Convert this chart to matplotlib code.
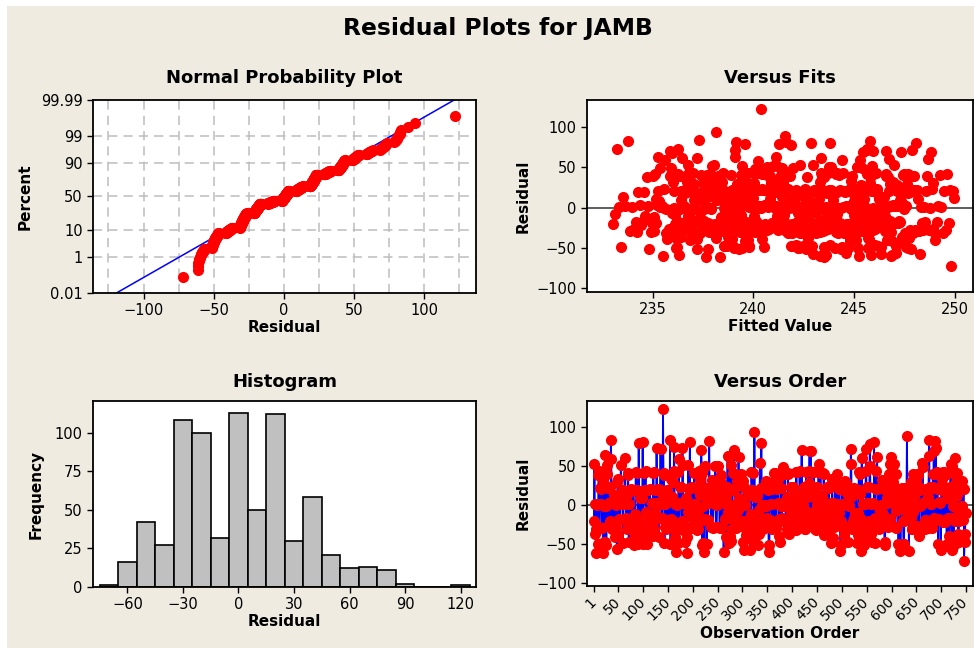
import numpy as np
import matplotlib.pyplot as plt
from matplotlib.patches import Rectangle
from statistics import NormalDist

# residual histogram (bin width 10, centred on the values)
hist_centers = np.arange(-70, 130, 10)
hist_counts = [1, 16, 42, 27, 108, 100, 32, 113, 50, 112, 30, 58, 21, 12, 13, 11, 2, 0, 0, 1]

# how many fitted values fall in each unit interval [start, start + 1)
fit_starts = np.arange(233, 250)
fit_counts = [10, 15, 30, 45, 52, 55, 58, 60, 60, 60, 58, 58, 56, 50, 45, 23, 14]

# the two isolated points visible in every panel
outlier_order = [140, 746]
outlier_fit = [240.4, 249.8]
outlier_resid = [122.0, -72.0]

obs_ticks = [1] + list(range(50, 751, 50))

BG = '#efebe1'
RED = '#ff0000'
plt.rcParams['font.family'] = 'DejaVu Sans'
plt.rcParams['font.size'] = 10


def spread(centers, counts, half):
    vals = []
    for c, k in zip(centers, counts):
        if k == 1:
            vals.append(float(c))
        elif k > 1:
            vals += list(np.linspace(c - half, c + half, k))
    return np.sort(np.array(vals))


resid_sorted = spread(hist_centers + 1.0, hist_counts, 2.5)
resid_sorted[-1] = outlier_resid[0]
resid_sorted[0] = outlier_resid[1]
fit_sorted = spread(fit_starts + 0.5, fit_counts, 0.48)
n = len(resid_sorted)

# scatter the observations over order / fitted value (quadratic Weyl sequences)
k = np.arange(n, dtype=float)
r_rank = np.argsort(np.argsort((k * k * 0.6180339887 + k * 0.31) % 1.0))
f_rank = np.argsort(np.argsort((k * k * 0.4142135624 + k * 0.77) % 1.0))


def pin(obs, rrank, fval):
    j = np.where(r_rank == rrank)[0][0]
    r_rank[j], r_rank[obs] = r_rank[obs], r_rank[j]
    target = np.argmin(np.abs(fit_sorted - fval))
    j = np.where(f_rank == target)[0][0]
    f_rank[j], f_rank[obs] = f_rank[obs], f_rank[j]


pin(outlier_order[0] - 1, n - 1, outlier_fit[0])
pin(outlier_order[1] - 1, 0, outlier_fit[1])

resid = resid_sorted[r_rank]
fitted = fit_sorted[f_rank]
order = np.arange(1, n + 1)

fig = plt.figure(figsize=(9.74, 6.48), dpi=100)
fig.patches.append(Rectangle((7 / 974, 0), 1, 1 - 6 / 648, transform=fig.transFigure,
                             facecolor=BG, edgecolor='none', zorder=-10))

fig.text(0.511, 0.956, 'Residual Plots for JAMB', ha='center', va='center',
         fontsize=16.8, fontweight='bold')


def style(ax):
    for s in ax.spines.values():
        s.set_linewidth(1.3)
        s.set_color('black')
    ax.tick_params(direction='out', length=4, width=1, labelsize=10.5)
    ax.set_facecolor('white')


W, H = 974.0, 648.0


def box(l, t, r, b):
    return [l / W, 1 - b / H, (r - l) / W, (b - t) / H]


# Normal probability plot
ax1 = fig.add_axes(box(93, 100, 476, 293))
nd = NormalDist()
p = (np.arange(1, n + 1) - 0.3) / (n + 0.4)
z = np.array([nd.inv_cdf(v) for v in p])
mu, sd = resid.mean(), resid.std(ddof=1)
xl = np.array([-136, 137])
ax1.plot(xl, (xl - mu) / sd, color='#0000ff', lw=1.1, zorder=2)
ax1.plot(resid_sorted, z, 'o', color=RED, ms=7, mec=RED, zorder=3, clip_on=False)
pct = [0.01, 1, 10, 50, 90, 99, 99.99]
zt = [nd.inv_cdf(v / 100) for v in pct]
ax1.set_yticks(zt)
ax1.set_yticklabels(['0.01', '1', '10', '50', '90', '99', '99.99'])
ax1.set_ylim(zt[0], zt[-1])
ax1.set_xlim(*xl)
ax1.set_xticks([-100, -50, 0, 50, 100])
for gx in range(-125, 130, 25):
    ax1.axvline(gx, color='#bdbdbd', ls=(0, (6, 4)), lw=1.1, zorder=1)
for gz in zt[1:-1]:
    ax1.axhline(gz, color='#bdbdbd', ls=(0, (6, 4)), lw=1.1, zorder=1)
style(ax1)
ax1.set_title('Normal Probability Plot', fontsize=13, fontweight='bold', pad=12)
ax1.set_xlabel('Residual', fontsize=11, fontweight='bold', labelpad=1)
ax1.set_ylabel('Percent', fontsize=11, fontweight='bold', labelpad=6)

# Versus fits
ax2 = fig.add_axes(box(587, 100, 973, 292))
ax2.axhline(0, color='#505050', lw=1.3, zorder=1)
ax2.plot(fitted, resid, 'o', color=RED, ms=7, mec=RED, zorder=2)
ax2.set_xlim(231.75, 250.9)
ax2.set_ylim(-104.7, 133.8)
ax2.set_xticks([235, 240, 245, 250])
ax2.set_yticks([-100, -50, 0, 50, 100])
style(ax2)
ax2.set_title('Versus Fits', fontsize=13, fontweight='bold', pad=12)
ax2.set_xlabel('Fitted Value', fontsize=11, fontweight='bold', labelpad=1)
ax2.set_ylabel('Residual', fontsize=11, fontweight='bold', labelpad=4)

# Histogram
ax3 = fig.add_axes(box(93, 401, 476, 587))
ax3.bar(hist_centers, hist_counts, width=10, color='#c0c0c0', edgecolor='black', lw=1.2)
ax3.set_xlim(-78.6, 128.3)
ax3.set_ylim(0, 120.5)
ax3.set_xticks(range(-60, 121, 30))
ax3.set_yticks([0, 25, 50, 75, 100])
style(ax3)
ax3.set_title('Histogram', fontsize=13, fontweight='bold', pad=10)
ax3.set_xlabel('Residual', fontsize=11, fontweight='bold', labelpad=1)
ax3.set_ylabel('Frequency', fontsize=11, fontweight='bold', labelpad=8)

# Versus order
ax4 = fig.add_axes(box(587, 401, 973, 586))
ax4.axhline(0, color='#505050', lw=1.3, zorder=1)
ax4.plot(order, resid, '-', color='#0000ff', lw=1.3, zorder=2)
ax4.plot(order, resid, 'o', color=RED, ms=7, mec=RED, zorder=3)
ax4.set_xlim(-13, 764)
ax4.set_ylim(-103.4, 132.8)
ax4.set_xticks(obs_ticks)
ax4.set_xticklabels([str(t) for t in obs_ticks], rotation=45, ha='right',
                    va='center', rotation_mode='anchor', fontsize=10)
ax4.tick_params(axis='x', pad=6)
ax4.set_yticks([-100, -50, 0, 50, 100])
style(ax4)
ax4.tick_params(axis='x', labelsize=10)
ax4.set_title('Versus Order', fontsize=13, fontweight='bold', pad=10)
ax4.set_xlabel('Observation Order', fontsize=11, fontweight='bold', labelpad=2)
ax4.set_ylabel('Residual', fontsize=11, fontweight='bold', labelpad=4)

fig.savefig('out.png', dpi=100, facecolor='white')
